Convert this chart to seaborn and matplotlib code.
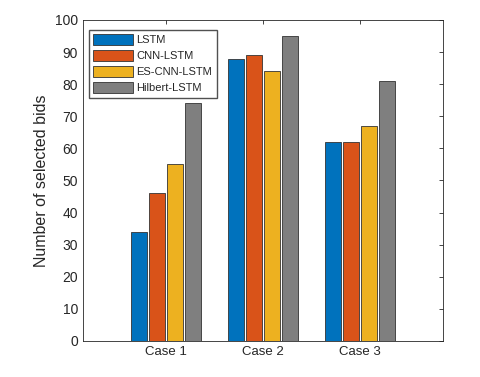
import pandas as pd
import numpy as np
import matplotlib.pyplot as plt
import seaborn as sns

# data
cases = ["Case 1", "Case 2", "Case 3"]
models = ["LSTM", "CNN-LSTM", "ES-CNN-LSTM", "Hilbert-LSTM"]
lstm = [34, 88, 62]
cnn_lstm = [46, 89, 62]
es_cnn_lstm = [55, 84, 67]
hilbert_lstm = [74, 95, 81]
colors = ["#0072BD", "#D95319", "#EDB120", "#7F7F7F"]

df = pd.DataFrame({
    "Case": cases * 4,
    "Model": [m for m in models for _ in cases],
    "Bids": lstm + cnn_lstm + es_cnn_lstm + hilbert_lstm,
})

sns.set_style("white")
plt.rcParams['font.family'] = ['Liberation Sans', 'DejaVu Sans']

fig = plt.figure(figsize=(4.8, 3.77), dpi=100)
ax = fig.add_axes([0.173, 0.0955, 0.75, 0.8515])

sns.barplot(data=df, x="Case", y="Bids", hue="Model", palette=colors,
            width=0.74, gap=0.14, edgecolor="#333333", linewidth=0.6,
            saturation=1, ax=ax)

ax.set_xlim(-0.856, 2.856)
ax.set_ylim(0, 100)
ax.set_yticks(np.arange(0, 101, 10))
ax.set_xlabel("")
ax.set_ylabel("Number of selected bids", fontsize=11.5, color="#262626")
ax.tick_params(direction="in", length=3, colors="#262626", labelsize=10,
               top=True, right=True, width=0.6)
ax.tick_params(axis="x", labelsize=9.5)
for s in ax.spines.values():
    s.set_color("#262626")
    s.set_linewidth(0.6)

ax.legend(loc="upper left", fontsize=8, frameon=True, fancybox=False,
          edgecolor="#262626", handlelength=3.6, handleheight=1.05,
          borderpad=0.4, labelspacing=0.45, handletextpad=0.27,
          borderaxespad=0, bbox_to_anchor=(0.0167, 0.969))

fig.savefig("out.png", dpi=100)
